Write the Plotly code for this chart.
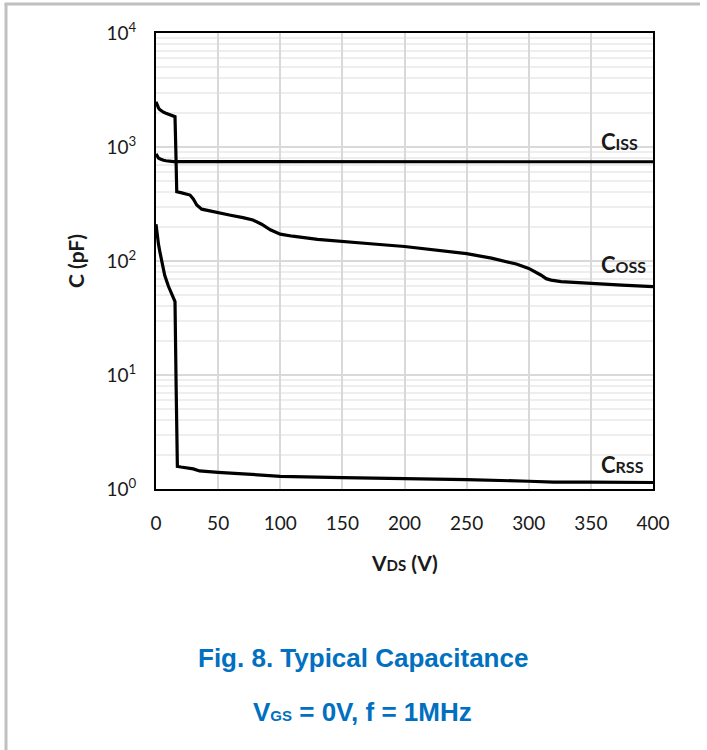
import plotly.graph_objects as go

# ---- data ----
ciss_v = [0, 0.5, 1, 2, 3, 4, 6, 8, 10, 12, 14, 20, 100, 200, 300, 400]
ciss_c = [870, 845, 825, 800, 788, 778, 766, 758, 752, 748, 745, 743, 742, 742, 742, 742]

coss_v = [0, 0.5, 1, 2, 3, 4, 6, 8, 10, 13, 15.3, 16, 16.7, 20, 24, 27.4, 30, 32.8, 36.8, 45, 52, 60, 70, 78, 85, 92, 100, 110,
          130, 150, 175, 200, 225, 250, 270, 290, 300, 306, 310, 314, 318, 326, 350, 375, 400]
coss_c = [2490, 2400, 2320, 2200, 2130, 2080, 2020, 1975, 1940, 1880, 1845, 900, 405, 398, 390, 379, 350, 310, 285, 272, 262, 252, 240, 229, 210, 188, 172, 165,
          155, 148, 141, 134, 125, 116, 106, 94, 86, 80, 75, 70, 68, 66, 63.5, 61.5, 59.6]

crss_v = [0, 0.5, 1, 2, 3, 5, 7, 10, 13, 15.3, 16.2, 17.2, 20, 25, 30, 35, 40, 50, 70, 100, 150, 200, 250, 300, 320, 350, 400]
crss_c = [210, 185, 165, 140, 122, 95, 75, 60, 50, 44, 8, 1.58, 1.56, 1.53, 1.50, 1.44, 1.42, 1.40, 1.36, 1.29, 1.26, 1.24, 1.21, 1.17, 1.15, 1.15, 1.14]

x_ticks = [0, 50, 100, 150, 200, 250, 300, 350, 400]
y_ticks = [1, 10, 100, 1000, 10000]
y_tick_text = ["10<sup>0</sup>", "10<sup>1</sup>", "10<sup>2</sup>", "10<sup>3</sup>", "10<sup>4</sup>"]

labels = ["C<span style='font-size:16px'>ISS</span>",
          "C<span style='font-size:16px'>OSS</span>",
          "C<span style='font-size:16px'>RSS</span>"]
label_y = [3.05, 1.965, 0.219]

fig = go.Figure()
for v, c in [(ciss_v, ciss_c), (coss_v, coss_c), (crss_v, crss_c)]:
    fig.add_trace(go.Scatter(x=v, y=c, mode="lines",
                             line=dict(color="black", width=3.2),
                             showlegend=False, hoverinfo="skip"))

tick_font = dict(family="Lato", size=19, color="#1a1a1a")

fig.update_xaxes(range=[0, 400], tickvals=x_ticks, tickfont=tick_font,
                 showgrid=True, gridcolor="#d9d9d9", gridwidth=1.5,
                 showline=True, linecolor="black", linewidth=2, mirror=True,
                 ticks="", ticklabelstandoff=16, zeroline=False)
fig.update_yaxes(type="log", range=[0, 4], tickvals=y_ticks, ticktext=y_tick_text,
                 tickfont=tick_font,
                 showgrid=True, gridcolor="#d9d9d9", gridwidth=1.5,
                 minor=dict(dtick="D1", showgrid=True, gridcolor="#eeeeee", gridwidth=1.5, ticks=""),
                 showline=True, linecolor="black", linewidth=2, mirror=True,
                 ticks="", ticklabelstandoff=14, zeroline=False)

for txt, ly in zip(labels, label_y):
    fig.add_annotation(x=356.5, y=ly, xref="x", yref="y", text=txt, showarrow=False,
                       xanchor="left", yanchor="middle",
                       font=dict(family="Lato", size=22, color="#1a1a1a", weight="bold"))

# axis titles
fig.add_annotation(x=0.5, y=0, xref="paper", yref="paper", yshift=-73,
                   text="V<span style='font-size:15px'>DS</span> (V)", showarrow=False,
                   xanchor="center", yanchor="middle",
                   font=dict(family="Lato", size=21, color="#1a1a1a", weight="bold"))
fig.add_annotation(x=0, y=0.5, xref="paper", yref="paper", xshift=-81,
                   text="C (pF)", showarrow=False, textangle=-90,
                   xanchor="center", yanchor="middle",
                   font=dict(family="Lato", size=21, color="#1a1a1a", weight="bold"))

# caption
cap_font = dict(family="Liberation Sans, Arial", size=26, color="#0070C0", weight="bold")
fig.add_annotation(x=0, y=0, xref="paper", yref="paper", xshift=207, yshift=-169,
                   text="Fig. 8. Typical Capacitance", showarrow=False,
                   xanchor="center", yanchor="middle", font=cap_font)
fig.add_annotation(x=0, y=0, xref="paper", yref="paper", xshift=206, yshift=-223,
                   text="V<span style='font-size:15px'>GS</span> = 0V, f = 1MHz", showarrow=False,
                   xanchor="center", yanchor="middle", font=cap_font)

# outer gray frame (left and top edges)
fig.add_shape(type="line", xref="paper", yref="paper", x0=-150/497, x1=-150/497, y0=1 + 29/456, y1=-261/456,
              line=dict(color="#c0c0c0", width=3))
fig.add_shape(type="line", xref="paper", yref="paper", x0=-151.5/497, x1=(700 - 156)/497, y0=1 + 29/456, y1=1 + 29/456,
              line=dict(color="#c0c0c0", width=3))

fig.update_layout(width=707, height=750,
                  margin=dict(l=156, r=54, t=33, b=261),
                  plot_bgcolor="white", paper_bgcolor="white")

fig.write_html("out.html", config={"displayModeBar": False},
               post_script="document.body.style.margin='0';document.body.style.overflow='hidden';")
